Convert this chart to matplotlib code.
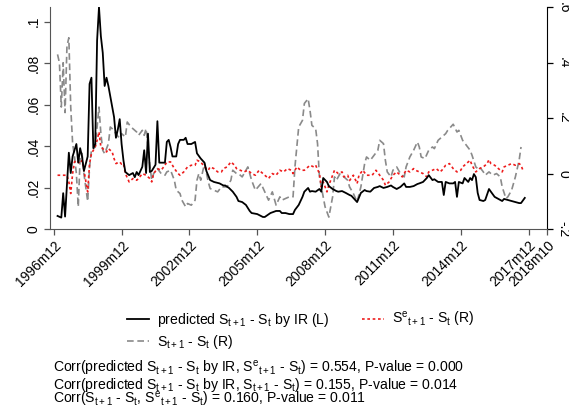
import matplotlib
matplotlib.use("Agg")
import matplotlib.pyplot as plt

plt.rcParams["font.family"] = ["Liberation Sans", "DejaVu Sans"]
plt.rcParams["mathtext.fontset"] = "custom"
plt.rcParams["mathtext.rm"] = "Liberation Sans"
plt.rcParams["mathtext.it"] = "Liberation Sans:italic"
plt.rcParams["mathtext.bf"] = "Liberation Sans:bold"

# Months are counted from 1996m12 (= 0)
tick_months = [0, 36, 72, 108, 144, 180, 216, 252, 262]
tick_labels = ["1996m12", "1999m12", "2002m12", "2005m12", "2008m12",
               "2011m12", "2014m12", "2017m12", "2018m10"]

# predicted S(t+1) - S(t) by interest rates (left axis)
pred_months = [2, 4, 5, 6, 8, 9, 10, 12, 13, 14, 15, 16, 18, 19, 20, 21, 22, 23, 24, 25,
               26, 27, 28, 29, 30, 32, 33, 34, 35, 36, 37, 38, 40, 42, 43, 44, 45, 47, 48, 49,
               50, 51, 52, 54, 55, 56, 57, 58, 59, 60, 61, 62, 63, 65, 66, 67, 69, 70, 71, 73,
               75, 76, 78, 80, 81, 83, 85, 88, 90, 91, 93, 95, 97, 98, 100, 102, 104, 105, 108, 111,
               112, 115, 118, 120, 121, 123, 125, 127, 128, 130, 132, 133, 135, 136, 137, 139, 141, 142, 143, 145,
               146, 148, 150, 151, 153, 155, 157, 158, 161, 163, 165, 166, 168, 170, 172, 173, 175, 177, 179, 180,
               182, 184, 186, 187, 189, 191, 193, 194, 196, 198, 199, 201, 202, 204, 206, 207, 208, 210, 211, 212,
               213, 214, 215, 217, 218, 220, 221, 222, 223, 224, 225, 226, 228, 229, 231, 232, 234, 236, 238, 239,
               241, 243, 245, 247, 248, 250]
pred_vals = [0.0063, 0.0055, 0.0173, 0.006, 0.0368, 0.027, 0.035, 0.041, 0.032, 0.039, 0.035, 0.028, 0.035, 0.070, 0.073, 0.039, 0.041, 0.091, 0.107, 0.093,
             0.085, 0.069, 0.073, 0.069, 0.064, 0.054, 0.044, 0.048, 0.053, 0.041, 0.033, 0.0275, 0.026, 0.027, 0.025, 0.0275, 0.026, 0.030, 0.038, 0.027,
             0.046, 0.0275, 0.028, 0.031, 0.052, 0.032, 0.032, 0.032, 0.032, 0.042, 0.043, 0.0395, 0.035, 0.035, 0.041, 0.043, 0.043, 0.044, 0.041, 0.041,
             0.042, 0.0365, 0.034, 0.032, 0.028, 0.0236, 0.0227, 0.022, 0.021, 0.021, 0.0198, 0.018, 0.0155, 0.0135, 0.013, 0.0116, 0.0087, 0.0077, 0.0072, 0.0058,
             0.0058, 0.0077, 0.0087, 0.0087, 0.0077, 0.0077, 0.0072, 0.0072, 0.0092, 0.0116, 0.0155, 0.018, 0.0198, 0.018, 0.0183, 0.018, 0.0193, 0.018, 0.0246, 0.0227,
             0.0207, 0.0193, 0.0183, 0.018, 0.0183, 0.0174, 0.0164, 0.016, 0.013, 0.0174, 0.0188, 0.0183, 0.018, 0.0198, 0.0203, 0.0207, 0.0198, 0.0203, 0.021, 0.0203,
             0.0193, 0.0203, 0.022, 0.0203, 0.0203, 0.0207, 0.0217, 0.022, 0.0227, 0.0246, 0.026, 0.0236, 0.024, 0.0227, 0.0227, 0.0164, 0.0227, 0.022, 0.022, 0.022,
             0.0227, 0.0155, 0.0227, 0.022, 0.0246, 0.0227, 0.0246, 0.0236, 0.0265, 0.025, 0.0174, 0.014, 0.0135, 0.014, 0.0193, 0.018, 0.0155, 0.0145, 0.0135, 0.0145,
             0.014, 0.0135, 0.013, 0.0125, 0.0125, 0.015]

# actual S(t+1) - S(t) (right axis)
act_months = [2, 3, 4, 5, 6, 7, 8, 9, 10, 11, 12, 13, 14, 15, 16, 17, 18, 19, 20, 22,
              23, 24, 25, 26, 27, 29, 30, 31, 33, 35, 36, 38, 39, 41, 42, 44, 45, 47, 48, 49,
              50, 51, 52, 53, 55, 57, 59, 60, 62, 64, 65, 67, 68, 70, 71, 73, 75, 76, 77, 78,
              80, 82, 83, 85, 87, 89, 90, 92, 94, 95, 97, 98, 100, 103, 105, 107, 110, 112, 114, 116,
              118, 120, 121, 123, 125, 127, 128, 130, 132, 133, 135, 136, 137, 139, 140, 141, 143, 144, 146, 148,
              149, 150, 152, 154, 156, 157, 159, 161, 163, 165, 166, 168, 170, 172, 173, 175, 176, 177, 179, 180,
              182, 184, 186, 187, 189, 191, 193, 194, 195, 197, 199, 201, 202, 204, 206, 208, 209, 211, 212, 214,
              215, 217, 219, 221, 222, 224, 225, 226, 228, 229, 231, 233, 235, 237, 238, 240, 241, 243, 245, 247,
              248]
act_vals = [0.43, 0.40, 0.24, 0.40, 0.22, 0.46, 0.49, 0.24, 0.11, 0.06, 0.0, -0.12, 0.059, 0.073, 0.0, -0.049, -0.10, 0.024, 0.084, 0.096,
            0.168, 0.24, 0.144, 0.084, 0.072, 0.108, 0.168, 0.162, 0.144, 0.126, 0.144, 0.132, 0.186, 0.168, 0.162, 0.15, 0.138, 0.156, 0.138, 0.162,
            0.10, 0.03, -0.024, 0.0, 0.018, 0.0, -0.006, 0.006, 0.012, -0.024, -0.06, -0.072, -0.096, -0.12, -0.108, -0.114, -0.096, -0.024, 0.0, -0.024,
            0.036, -0.03, -0.054, -0.06, -0.066, -0.048, -0.048, -0.048, -0.024, 0.012, 0.0, 0.0, -0.012, 0.024, -0.024, -0.06, -0.036, -0.066, -0.096, -0.066,
            -0.114, -0.084, -0.096, -0.09, -0.084, -0.084, 0.024, 0.168, 0.192, 0.253, 0.27, 0.228, 0.174, 0.162, 0.108, -0.012, -0.084, -0.12, -0.157, -0.084,
            -0.012, -0.024, 0.0, -0.012, -0.024, -0.048, -0.072, -0.102, -0.048, 0.036, 0.06, 0.048, 0.066, 0.084, 0.12, 0.108, 0.048, 0.006, -0.012, 0.012,
            0.024, 0.0, -0.012, 0.024, 0.06, 0.084, 0.114, 0.096, 0.06, 0.054, 0.084, 0.096, 0.09, 0.12, 0.132, 0.144, 0.155, 0.17, 0.178, 0.15,
            0.156, 0.12, 0.102, 0.084, 0.066, 0.024, 0.018, 0.024, 0.006, -0.006, 0.006, -0.006, 0.0, -0.012, -0.048, -0.09, -0.084, -0.06, -0.012, 0.048,
            0.096]

# expected S(t+1) - S(t) from survey (right axis)
exp_months = [2, 5, 7, 8, 9, 10, 11, 12, 14, 15, 16, 18, 19, 20, 22, 23, 24, 25, 27, 28,
              29, 31, 32, 33, 35, 36, 37, 38, 40, 42, 44, 45, 47, 49, 51, 52, 53, 55, 57, 59,
              60, 62, 64, 66, 67, 69, 71, 73, 75, 76, 78, 80, 82, 83, 85, 87, 89, 90, 92, 94,
              96, 97, 99, 101, 103, 105, 107, 109, 111, 112, 114, 116, 118, 120, 122, 124, 126, 127, 129, 131,
              133, 135, 136, 138, 139, 141, 142, 143, 145, 146, 148, 149, 151, 153, 154, 156, 157, 159, 161, 162,
              164, 166, 168, 169, 171, 173, 175, 176, 178, 180, 182, 184, 185, 187, 189, 191, 192, 194, 196, 198,
              199, 201, 203, 205, 206, 208, 210, 212, 214, 216, 217, 219, 221, 222, 223, 224, 226, 228, 230, 231,
              232, 234, 236, 238, 239, 241, 243, 245, 247, 248, 249]
exp_vals = [-0.006, -0.006, -0.006, -0.03, -0.072, 0.0, 0.042, 0.048, 0.036, 0.048, 0.012, -0.066, 0.036, 0.072, 0.096, 0.12, 0.15, 0.096, 0.084, 0.078,
            0.09, 0.078, 0.054, 0.036, 0.042, 0.034, 0.036, 0.0, -0.03, -0.018, -0.024, -0.018, 0.0, -0.006, -0.018, -0.03, 0.0, 0.018, 0.012, 0.03,
            0.042, 0.042, 0.018, 0.0, -0.006, 0.006, 0.024, 0.03, 0.03, 0.048, 0.042, 0.024, 0.012, 0.024, 0.018, 0.006, 0.006, 0.018, 0.024, 0.042,
            0.03, 0.018, 0.012, 0.006, 0.012, 0.0, -0.006, 0.012, 0.0, -0.006, -0.018, 0.0, -0.006, 0.012, 0.006, 0.018, 0.012, 0.0, 0.024, 0.012,
            0.012, 0.024, 0.03, 0.024, 0.03, 0.0, -0.048, -0.03, -0.066, -0.042, -0.006, 0.012, 0.0, 0.006, -0.012, -0.006, -0.025, -0.006, -0.036, -0.006,
            0.012, -0.006, -0.006, -0.006, 0.012, -0.006, -0.024, -0.042, -0.03, -0.006, 0.006, -0.006, -0.012, 0.012, 0.006, 0.018, 0.012, 0.006, 0.0, -0.012,
            0.006, 0.012, 0.018, 0.006, 0.012, 0.03, 0.036, 0.018, 0.006, 0.012, 0.024, 0.036, 0.048, 0.03, 0.018, 0.006, 0.018, 0.024, 0.036, 0.05,
            0.036, 0.03, 0.018, 0.006, 0.024, 0.03, 0.036, 0.03, 0.036, 0.03, 0.012]

left_ticks = [0, 0.02, 0.04, 0.06, 0.08, 0.1]
left_labels = ["0", ".02", ".04", ".06", ".08", ".1"]
right_ticks = [-0.2, 0, 0.2, 0.4, 0.6]
right_labels = ["-.2", "0", ".2", ".4", ".6"]

S = r"S$_{\mathrm{t+1}}$ - S$_{\mathrm{t}}$"
SE = r"S$^{\mathrm{e}}{}_{\mathrm{t+1}}$ - S$_{\mathrm{t}}$"
notes = [
    r"Corr(predicted S$_{\mathrm{t+1}}$ - S$_{\mathrm{t}}$ by IR, S$^{\mathrm{e}}{}_{\mathrm{t+1}}$ - S$_{\mathrm{t}}$) = 0.554, P-value = 0.000",
    r"Corr(predicted S$_{\mathrm{t+1}}$ - S$_{\mathrm{t}}$ by IR, S$_{\mathrm{t+1}}$ - S$_{\mathrm{t}}$) = 0.155, P-value = 0.014",
    r"Corr(S$_{\mathrm{t+1}}$ - S$_{\mathrm{t}}$, S$^{\mathrm{e}}{}_{\mathrm{t+1}}$ - S$_{\mathrm{t}}$) = 0.160, P-value = 0.011",
]

W, H = 569, 409
fig = plt.figure(figsize=(W / 100, H / 100), dpi=100)
ax = fig.add_axes([50 / W, 1 - 229 / H, 497.4 / W, 222 / H])
ax2 = ax.twinx()

axis_grey = "#555555"
lp, = ax.plot(pred_months, pred_vals, color="black", lw=1.3, zorder=3)
la, = ax2.plot(act_months, act_vals, color="#8a8a8a", lw=1.2, linestyle=(0, (4.0, 2.2)))
le, = ax2.plot(exp_months, exp_vals, color="#ee1c1c", lw=1.2, linestyle=(0, (1.6, 1.6)))
ax.set_zorder(ax2.get_zorder() + 1)
ax.patch.set_visible(False)

ax.set_xlim(-2, 262)
ax.set_ylim(0, 0.1071)
ax2.set_ylim(-0.2, 0.601)

ax.set_xticks(tick_months)
ax.set_xticklabels(tick_labels, rotation=45, ha="right", va="top",
                   rotation_mode="anchor", fontsize=10)
ax.set_yticks(left_ticks)
ax.set_yticklabels(left_labels, rotation=90, va="center", fontsize=10)
ax2.set_yticks(right_ticks)
ax2.set_yticklabels(right_labels, rotation=-90, va="center", fontsize=10)

for a in (ax, ax2):
    a.spines["top"].set_visible(False)
ax.spines["right"].set_visible(False)
ax2.spines["left"].set_visible(False)
ax2.spines["bottom"].set_visible(False)
ax.spines["left"].set_color(axis_grey)
ax.spines["bottom"].set_color(axis_grey)
ax2.spines["right"].set_color("black")
ax.tick_params(axis="both", direction="out", length=4, width=0.9, color=axis_grey, pad=2.5)
ax2.tick_params(axis="y", direction="out", length=4, width=0.9, color="black", pad=2.5)

fig.legend([lp, la, le],
           ["predicted " + S + " by IR (L)", S + " (R)", SE + " (R)"],
           ncol=2, frameon=False, fontsize=10.1, loc="upper left",
           bbox_to_anchor=(127 / W, 1 - 310 / H), handlelength=1.57,
           handletextpad=0.57, columnspacing=2.36, labelspacing=0.3,
           borderaxespad=0, borderpad=0)

for i, line in enumerate(notes):
    fig.text(52.6 / W, 1 - (369 + 15.5 * i) / H, line, fontsize=10.1, va="center", ha="left")

fig.savefig("out.png", dpi=100)
